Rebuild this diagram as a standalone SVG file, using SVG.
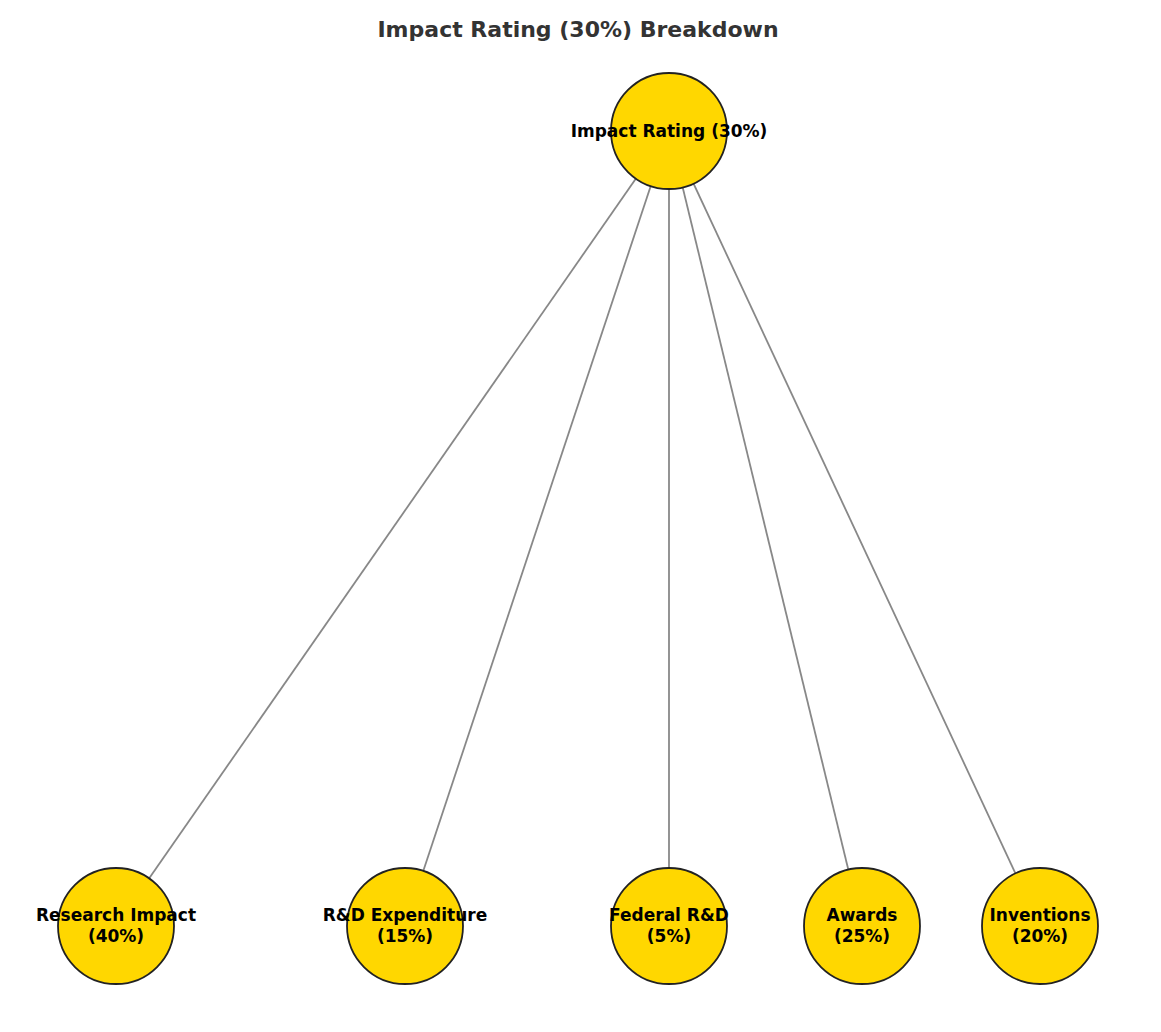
<svg xmlns="http://www.w3.org/2000/svg" width="1161" height="1032" viewBox="0 0 1161 1032">
<style>
.n{fill:#FFD700;stroke:#222;stroke-width:1.8}
.t{font-family:"DejaVu Sans",sans-serif;font-weight:bold;font-size:17px;fill:#000;text-anchor:middle}
.e{stroke:#888;stroke-width:1.8}
</style>
<rect width="1161" height="1032" fill="#fff"/>
<text x="578" y="37" style="font-family:'DejaVu Sans',sans-serif;font-weight:bold;font-size:22px;fill:#333;text-anchor:middle">Impact Rating (30%) Breakdown</text>
<g id="edges">
<line class="e" x1="669" y1="131" x2="116" y2="926"/>
<line class="e" x1="669" y1="131" x2="405" y2="926"/>
<line class="e" x1="669" y1="131" x2="669" y2="926"/>
<line class="e" x1="669" y1="131" x2="862" y2="926"/>
<line class="e" x1="669" y1="131" x2="1040" y2="926"/>
</g>
<g id="root"><circle class="n" cx="669" cy="131" r="58"/><text class="t" x="669" y="137">Impact Rating (30%)</text></g>
<g id="research"><circle class="n" cx="116" cy="926" r="58"/><text class="t" x="116" y="921">Research Impact</text><text class="t" x="116" y="942">(40%)</text></g>
<g id="rd"><circle class="n" cx="405" cy="926" r="58"/><text class="t" x="405" y="921">R&amp;D Expenditure</text><text class="t" x="405" y="942">(15%)</text></g>
<g id="federal"><circle class="n" cx="669" cy="926" r="58"/><text class="t" x="669" y="921">Federal R&amp;D</text><text class="t" x="669" y="942">(5%)</text></g>
<g id="awards"><circle class="n" cx="862" cy="926" r="58"/><text class="t" x="862" y="921">Awards</text><text class="t" x="862" y="942">(25%)</text></g>
<g id="inventions"><circle class="n" cx="1040" cy="926" r="58"/><text class="t" x="1040" y="921">Inventions</text><text class="t" x="1040" y="942">(20%)</text></g>
</svg>
